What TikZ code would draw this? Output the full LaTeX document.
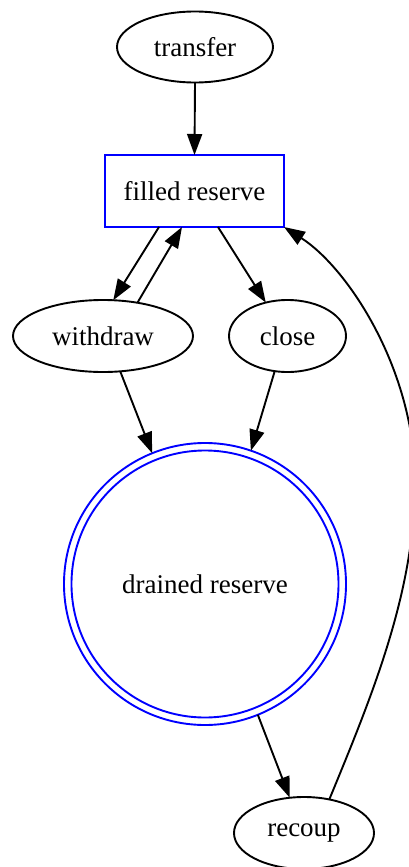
\documentclass[tikz,border=0pt]{standalone}
\usepackage{fontspec}
\setmainfont{Liberation Serif}
\usetikzlibrary{shapes.geometric,arrows.meta}

\tikzset{
  lbl/.style={font=\fontsize{27}{32}\selectfont, text=black, inner sep=0pt, outer sep=0pt},
  oval/.style={lbl, ellipse, draw=black, line width=1.9pt},
  startbox/.style={lbl, rectangle, draw=blue, line width=2.7pt},
  finalring/.style={lbl, circle, draw=blue, line width=1.9pt},
  edge/.style={draw=black, line width=1.9pt, -{Triangle[length=21pt,width=15pt]}},
}

\begin{document}
\begin{tikzpicture}[x=1pt, y=-1pt]
  \useasboundingbox (0,0) rectangle (408,867);

  % states
  \node[oval, minimum width=156pt, minimum height=71pt] (transfer) at (195,47) {transfer};
  \node[startbox, minimum width=179pt, minimum height=72pt] (filled) at (194.5,191) {filled reserve};
  \node[oval, minimum width=180pt, minimum height=72pt] (withdraw) at (103,336) {withdraw};
  \node[oval, minimum width=117pt, minimum height=72pt] (close) at (287.5,336) {close};
  \node[finalring, minimum size=282pt] (drained) at (205,584) {drained reserve};
  \draw[blue, line width=1.9pt] (drained.center) circle[radius=133.5pt];
  \node[oval, minimum width=140pt, minimum height=72pt] (recoup) at (304,833) {recoup};

  % transitions
  \draw[edge] (transfer.south) -- (filled.north);
  \draw[edge] ([xshift=-35.5pt]filled.south) -- (withdraw.74);
  \draw[edge] (withdraw.44) -- ([xshift=-12.5pt]filled.south);
  \draw[edge] ([xshift=23.5pt]filled.south) -- (close.123);
  \draw[edge] (withdraw.-64) -- (drained.112);
  \draw[edge] (close.250) -- (drained.71);
  \draw[edge] (drained.-68) -- (recoup.112);
  \draw[edge] (recoup.53)
      .. controls (372,696) and (415,592) .. (415,482)
      .. controls (415,370) and (348,268) .. (filled.south east);
\end{tikzpicture}
\end{document}
